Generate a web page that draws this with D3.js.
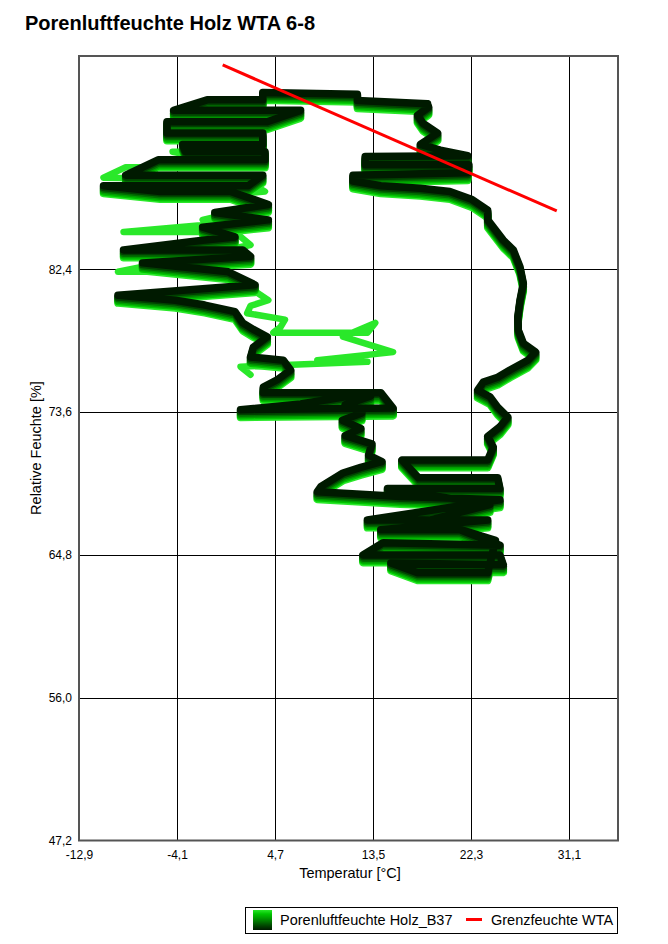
<!DOCTYPE html>
<html>
<head>
<meta charset="utf-8">
<script src="https://cdn.jsdelivr.net/npm/d3@7"></script>
<style>
  body { margin: 0; background: #fff; }
  text { font-family: "Liberation Sans", Arial, sans-serif; fill: #000; }
</style>
</head>
<body>
<div id="chart"></div>
<script>
const width = 668
const height = 944
const plot = {left: 79, right: 618, top: 56, bottom: 840.5}

// Achsen
const xTicks = [-12.9, -4.1, 4.7, 13.5, 22.3, 31.1]
const yTicks = [47.2, 56.0, 64.8, 73.6, 82.4]
const xDomain = [-12.9, 35.5]
const yDomain = [47.2, 95.55]

// Porenluftfeuchte, letztes Jahr: [Temperatur °C, rel. Feuchte %]
const verlauf = [
  [18.4, 92.6], [12.1, 92.8], [12.1, 93.2], [3.6, 93.3], [3.6, 92.85], [-1.4, 92.85],
  [-4.4, 92.2], [7.0, 92.2], [4.0, 91.5], [-5.0, 91.5], [-5.0, 90.8], [3.6, 90.8],
  [3.6, 90.1], [-3.6, 90.1], [-3.35, 89.65], [3.8, 89.65], [3.8, 89.15], [-5.8, 89.15],
  [-8.7, 88.2], [3.6, 88.2], [2.3, 87.55], [-10.7, 87.55], [-5.6, 87.2], [0.7, 87.2],
  [4.1, 86.4], [-0.7, 85.9], [4.1, 85.45], [-1.8, 85.0], [1.1, 84.4], [-1.8, 84.2],
  [-8.9, 83.6], [1.8, 83.6], [2.5, 83.2], [-7.2, 82.8], [0.5, 82.25], [2.9, 81.45],
  [-9.4, 80.8], [-4.25, 80.5], [-1.6, 80.2], [1.1, 79.8], [1.8, 79.1], [2.75, 78.7],
  [4.0, 78.25], [2.75, 77.6], [2.5, 77.0], [5.45, 76.8], [6.1, 76.2], [4.9, 75.6],
  [3.65, 75.15], [3.65, 74.8], [14.2, 74.8], [15.3, 73.85], [1.6, 73.75], [7.0, 74.1],
  [11.0, 74.55], [13.3, 74.6], [11.0, 74.05], [12.5, 73.55], [10.75, 73.1], [12.4, 72.6],
  [11.0, 72.15], [13.4, 71.65], [13.1, 70.95], [14.3, 70.55], [12.4, 70.2], [10.8, 69.85],
  [8.8, 69.0], [8.5, 68.7], [15.95, 68.4],
  [24.9, 68.2], [13.0, 66.95], [23.8, 66.95], [14.2, 66.35], [21.3, 66.35], [24.9, 65.4],
  [14.4, 65.55], [12.6, 64.8], [24.9, 64.8], [25.2, 64.2], [15.1, 64.3], [17.5, 63.7],
  [23.8, 63.7], [24.5, 65.7], [18.6, 66.95], [24.0, 67.9], [14.8, 68.9], [24.9, 68.9],
  [24.7, 69.55], [17.6, 69.55], [16.1, 70.65], [23.8, 70.65], [24.3, 71.45],
  [23.8, 72.1], [24.9, 72.7], [25.6, 73.3], [24.7, 73.9], [24.0, 74.55], [22.9, 74.95],
  [23.4, 75.45], [24.7, 75.75], [25.8, 76.2], [27.4, 76.8], [28.1, 77.3], [27.0, 77.85],
  [26.55, 78.65], [26.5, 79.45], [26.7, 80.5], [27.0, 81.55], [26.7, 82.55], [26.1, 83.6],
  [25.2, 84.2], [23.8, 85.45], [23.8, 86.05], [22.4, 86.7], [20.4, 87.2], [17.75, 87.4],
  [14.2, 87.55], [11.7, 87.85], [11.7, 88.2], [22.0, 88.35], [22.1, 88.85], [12.8, 88.85],
  [12.8, 89.35], [22.0, 89.4], [19.55, 89.75], [17.75, 90.1], [19.3, 90.8], [18.0, 91.4],
  [17.5, 91.9], [18.5, 92.4], [18.4, 92.6]
]

// erstes Jahr weicht im Frühjahr ab
const erstesJahr = [
  [2.9, 89.65], [-4.5, 89.65], [2.5, 88.7], [-8.7, 88.7], [-10.7, 88.05], [2.0, 87.9],
  [3.8, 87.2], [0.5, 87.0], [4.1, 86.4], [-1.8, 85.45], [1.1, 85.3], [-8.9, 84.7],
  [1.1, 84.7], [2.5, 83.9], [-9.4, 82.25], [-2.5, 82.25], [0.5, 81.9], [2.7, 81.15],
  [4.1, 80.5], [2.5, 80.15], [2.2, 79.7], [5.6, 79.3], [5.2, 78.85], [4.55, 78.5],
  [13.0, 78.5], [13.7, 79.1], [10.8, 78.25], [15.3, 77.3], [8.5, 76.8], [13.0, 76.7],
  [1.6, 76.4], [2.5, 75.9]
]

// Jahre: Farbe und Feuchteversatz gegenüber dem letzten Jahr
const jahrFarben = ["#2ae82a", "#00c400", "#009c00", "#006f00", "#004200", "#001a00"]
const jahrVersatz = [-0.48, -0.38, -0.29, -0.2, -0.1, 0]

const grenzfeuchte = [[0, 95], [30, 86]]

const fmt = d => d.toFixed(1).replace(".", ",")

const svg = d3.select("div#chart")
  .append("svg")
  .attr("width", width)
  .attr("height", height)

svg.append("rect").attr("width", width).attr("height", height).attr("fill", "#fff")

const x = d3.scaleLinear().domain(xDomain).range([plot.left, plot.right])
const y = d3.scaleLinear().domain(yDomain).range([plot.bottom, plot.top])

// Titel
svg.append("text")
  .attr("x", 25).attr("y", 30)
  .style("font-size", "20px").style("font-weight", "bold")
  .text("Porenluftfeuchte Holz WTA 6-8")

// Gitter
const grid = svg.append("g").attr("stroke", "#000").attr("stroke-width", 1)
grid.selectAll("line.gx").data(xTicks.slice(1)).join("line")
  .attr("class", "gx")
  .attr("x1", d => Math.round(x(d)) + 0.5).attr("x2", d => Math.round(x(d)) + 0.5)
  .attr("y1", plot.top).attr("y2", plot.bottom)
grid.selectAll("line.gy").data(yTicks.slice(1)).join("line")
  .attr("class", "gy")
  .attr("y1", d => Math.round(y(d)) + 0.5).attr("y2", d => Math.round(y(d)) + 0.5)
  .attr("x1", plot.left).attr("x2", plot.right)

// Achsen mit d3.axis, nur Beschriftung
const xAxis = d3.axisBottom(x).tickValues(xTicks).tickFormat(fmt).tickSize(0).tickPadding(10)
const yAxis = d3.axisLeft(y).tickValues(yTicks).tickFormat(fmt).tickSize(0).tickPadding(7)

const gx = svg.append("g").attr("transform", `translate(0,${plot.bottom})`).call(xAxis)
const gy = svg.append("g").attr("transform", `translate(${plot.left},0)`).call(yAxis)
gx.select(".domain").remove()
gy.select(".domain").remove()
svg.selectAll(".tick text").style("font-size", "12px").attr("font-family", null)

svg.append("text")
  .attr("x", 350).attr("y", 878)
  .attr("text-anchor", "middle")
  .style("font-size", "14.5px")
  .text("Temperatur [°C]")

svg.append("text")
  .attr("transform", `translate(41,448) rotate(-90)`)
  .attr("text-anchor", "middle")
  .style("font-size", "14.5px")
  .text("Relative Feuchte [%]")

// Daten
const dataGroup = svg.append("g")
  .attr("fill", "none")
  .attr("stroke-width", 7.5)
  .attr("stroke-linejoin", "round")
  .attr("stroke-linecap", "round")

dataGroup.append("path")
  .attr("d", d3.line().x(d => x(d[0])).y(d => y(d[1]))(erstesJahr))
  .attr("stroke", jahrFarben[0])
  .attr("stroke-width", 6.5)

dataGroup.selectAll("path.jahr").data(jahrVersatz).join("path")
  .attr("class", "jahr")
  .attr("stroke", (d, i) => jahrFarben[i])
  .attr("d", off => d3.line().x(d => x(d[0])).y(d => y(d[1] + off))(verlauf))

// Grenzfeuchte WTA
svg.append("path")
  .attr("d", d3.line().x(d => x(d[0])).y(d => y(d[1]))(grenzfeuchte))
  .attr("stroke", "#ff0000")
  .attr("stroke-width", 3)
  .attr("fill", "none")

// Rahmen
svg.append("rect")
  .attr("x", plot.left).attr("y", plot.top)
  .attr("width", plot.right - plot.left).attr("height", plot.bottom - plot.top)
  .attr("fill", "none").attr("stroke", "#555").attr("stroke-width", 2)

// Legende
const defs = svg.append("defs")
const grad = defs.append("linearGradient").attr("id", "gruen").attr("x1", 0).attr("y1", 0).attr("x2", 0).attr("y2", 1)
jahrFarben.forEach((c, i) => grad.append("stop").attr("offset", i / (jahrFarben.length - 1)).attr("stop-color", c))

const legend = svg.append("g")
legend.append("rect")
  .attr("x", 245.5).attr("y", 907.5).attr("width", 372).attr("height", 26)
  .attr("fill", "#fff").attr("stroke", "#000").attr("stroke-width", 1)
legend.append("rect")
  .attr("x", 253).attr("y", 910).attr("width", 19).attr("height", 20)
  .attr("fill", "url(#gruen)")
legend.append("text")
  .attr("x", 280).attr("y", 925)
  .style("font-size", "14.5px")
  .text("Porenluftfeuchte Holz_B37")
legend.append("line")
  .attr("x1", 466).attr("x2", 482).attr("y1", 919.5).attr("y2", 919.5)
  .attr("stroke", "#ff0000").attr("stroke-width", 3)
legend.append("text")
  .attr("x", 491).attr("y", 925)
  .style("font-size", "14.5px")
  .text("Grenzfeuchte WTA")
</script>
</body>
</html>
